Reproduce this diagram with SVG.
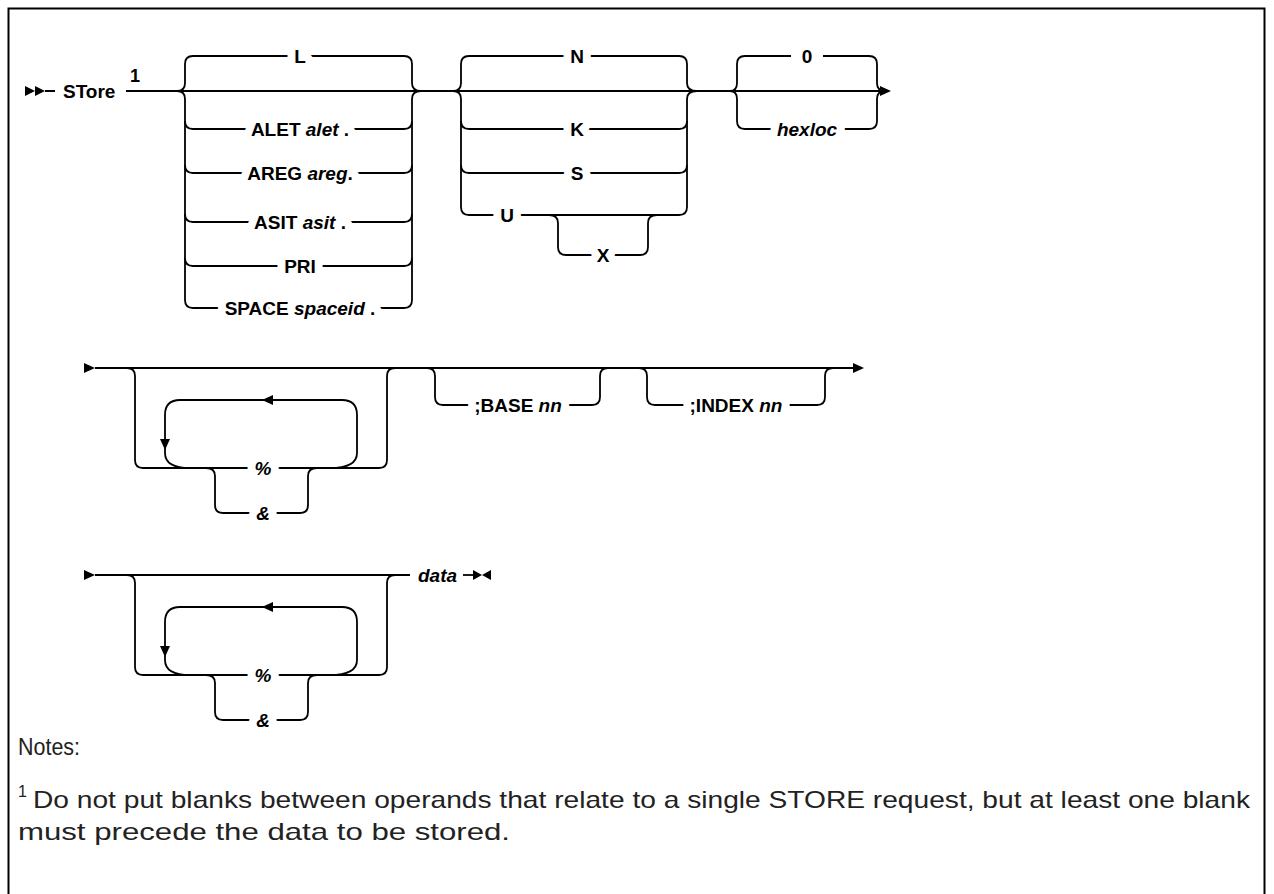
<svg xmlns="http://www.w3.org/2000/svg" xmlns:xlink="http://www.w3.org/1999/xlink" width="1274" height="894" viewBox="0 0 1274 894">
<style>
.ln{fill:none;stroke:#000;stroke-width:1.8;stroke-linejoin:round}
.ah{fill:#000;stroke:none}
.t{font-family:"Liberation Sans",Arial,sans-serif;font-size:19px;font-weight:bold;text-anchor:middle;fill:#000}
.halo{stroke:#fff;stroke-width:16px;stroke-linejoin:round;fill:#fff}
.tl{text-anchor:start}
.i{font-style:italic}
.n{font-family:"Liberation Sans",Arial,sans-serif;font-size:24px;fill:#222}
</style>
<rect x="8.5" y="8.5" width="1256" height="920" fill="#fff" stroke="#000" stroke-width="2"/>

<g id="connectors">
  <path class="ln" d="M45,91 H55 M126,91 H881"/>
  <path class="ln" d="M177,91 Q185,91 185,83 V64 Q185,56 193,56 H404 Q412,56 412,64 V83 Q412,91 421,91"/>
  <path class="ln" d="M177,91 Q185,91 185,99 V300 Q185,308 193,308 H404 Q412,308 412,300 V99 Q412,91 421,91"/>
  <path class="ln" d="M185,121 Q185,129 193,129 H404 Q412,129 412,121 M185,165 Q185,173 193,173 H404 Q412,173 412,165 M185,214 Q185,222 193,222 H404 Q412,222 412,214 M185,258 Q185,266 193,266 H404 Q412,266 412,258"/>
  <path class="ln" d="M453,91 Q461,91 461,83 V64 Q461,56 469,56 H679 Q687,56 687,64 V83 Q687,91 697,91"/>
  <path class="ln" d="M453,91 Q461,91 461,99 V207 Q461,215 469,215 H679 Q687,215 687,207 V99 Q687,91 697,91"/>
  <path class="ln" d="M461,121 Q461,129 469,129 H679 Q687,129 687,121 M461,165 Q461,173 469,173 H679 Q687,173 687,165"/>
  <path class="ln" d="M549,215 Q558,215 558,223 V247 Q558,255 566,255 H640 Q648,255 648,247 V223 Q648,215 657,215"/>
  <path class="ln" d="M730,91 Q737,91 737,83 V64 Q737,56 745,56 H791 M823,56 H869 Q877,56 877,64 V83 Q877,91 885,91"/>
  <path class="ln" d="M730,91 Q737,91 737,99 V121 Q737,129 745,129 H869 Q877,129 877,121 V99 Q877,91 885,91"/>
  <polygon class="ah" points="880,86 891,91 880,96"/>

  <polygon class="ah" points="84,363 95,368 84,373"/>
  <path class="ln" d="M95,368 H855"/>
  <polygon class="ah" points="853,363 864,368 853,373"/>
  <path class="ln" d="M127,368 Q135,368 135,376 V460 Q135,468 143,468 H379 Q387,468 387,460 V376 Q387,368 395,368"/>
  <path class="ln" d="M330,468 Q357,468 357,453 V415 Q357,400 342,400 H180 Q165,400 165,415 V453 Q165,468 190,468"/>
  <polygon class="ah" points="262,400 273,395 273,405"/>
  <polygon class="ah" points="160,439 170,439 165,450"/>
  <path class="ln" d="M206,468 Q215,468 215,476 V505 Q215,513 223,513 H300 Q308,513 308,505 V476 Q308,468 317,468"/>
  <path class="ln" d="M427,368 Q435,368 435,376 V397 Q435,405 443,405 H592 Q600,405 600,397 V376 Q600,368 608,368"/>
  <path class="ln" d="M639,368 Q647,368 647,376 V397 Q647,405 655,405 H817 Q825,405 825,397 V376 Q825,368 833,368"/>

  <polygon class="ah" points="84,570 95,575 84,580"/>
  <path class="ln" d="M95,575 H410"/>
  <path class="ln" d="M127,575 Q135,575 135,583 V667 Q135,675 143,675 H379 Q387,675 387,667 V583 Q387,575 395,575"/>
  <path class="ln" d="M330,675 Q357,675 357,660 V622 Q357,607 342,607 H180 Q165,607 165,622 V660 Q165,675 190,675"/>
  <polygon class="ah" points="262,607 273,602 273,612"/>
  <polygon class="ah" points="160,646 170,646 165,657"/>
  <path class="ln" d="M206,675 Q215,675 215,683 V712 Q215,720 223,720 H300 Q308,720 308,712 V683 Q308,675 317,675"/>
  <path class="ln" d="M463,575 H474"/>
  <polygon class="ah" points="473,570 482,575 473,580"/>
  <polygon class="ah" points="491,570 482,575 491,580"/>
</g>

<g id="start">
  <polygon class="ah" points="25,86 35,91 25,96"/>
  <polygon class="ah" points="35,86 45,91 35,96"/>
</g>
<g id="store"><text class="t tl" x="63" y="98">STore</text><text class="t tl" x="130" y="82" style="font-size:18px">1</text></g>
<g id="opt-L"><use class="halo" xlink:href="#tL"/><text id="tL" class="t" x="300" y="63">L</text></g>
<g id="opt-ALET"><use class="halo" xlink:href="#tALET"/><text id="tALET" class="t" x="300" y="136">ALET <tspan class="i">alet</tspan> .</text></g>
<g id="opt-AREG"><use class="halo" xlink:href="#tAREG"/><text id="tAREG" class="t" x="300" y="180">AREG <tspan class="i">areg</tspan>.</text></g>
<g id="opt-ASIT"><use class="halo" xlink:href="#tASIT"/><text id="tASIT" class="t" x="300" y="229">ASIT <tspan class="i">asit</tspan> .</text></g>
<g id="opt-PRI"><use class="halo" xlink:href="#tPRI"/><text id="tPRI" class="t" x="300" y="273">PRI</text></g>
<g id="opt-SPACE"><use class="halo" xlink:href="#tSPACE"/><text id="tSPACE" class="t" x="300" y="315">SPACE <tspan class="i">spaceid</tspan> .</text></g>
<g id="opt-N"><use class="halo" xlink:href="#tN"/><text id="tN" class="t" x="577" y="63">N</text></g>
<g id="opt-K"><use class="halo" xlink:href="#tK"/><text id="tK" class="t" x="577" y="136">K</text></g>
<g id="opt-S"><use class="halo" xlink:href="#tS"/><text id="tS" class="t" x="577" y="180">S</text></g>
<g id="opt-U"><use class="halo" xlink:href="#tU"/><text id="tU" class="t" x="507" y="222">U</text></g>
<g id="opt-X"><use class="halo" xlink:href="#tX"/><text id="tX" class="t" x="603" y="262">X</text></g>
<g id="opt-0"><text id="t0" class="t" x="807" y="63">0</text></g>
<g id="opt-hexloc"><use class="halo" xlink:href="#thex"/><text id="thex" class="t i" x="807" y="136">hexloc</text></g>

<g id="r2-pct"><use class="halo" xlink:href="#tp2"/><text id="tp2" class="t i" x="263" y="475">%</text></g>
<g id="r2-amp"><use class="halo" xlink:href="#ta2"/><text id="ta2" class="t i" x="263" y="520">&amp;</text></g>
<g id="r2-base"><use class="halo" xlink:href="#tb2"/><text id="tb2" class="t" x="518" y="412">;BASE <tspan class="i">nn</tspan></text></g>
<g id="r2-index"><use class="halo" xlink:href="#ti2"/><text id="ti2" class="t" x="736" y="412">;INDEX <tspan class="i">nn</tspan></text></g>

<g id="r3-pct"><use class="halo" xlink:href="#tp3"/><text id="tp3" class="t i" x="263" y="682">%</text></g>
<g id="r3-amp"><use class="halo" xlink:href="#ta3"/><text id="ta3" class="t i" x="263" y="727">&amp;</text></g>
<g id="r3-data"><text class="t i tl" x="418" y="582">data</text></g>

<g id="notes">
  <text class="n" x="18" y="755" style="font-size:23px" textLength="62" lengthAdjust="spacingAndGlyphs">Notes:</text>
  <text class="n" x="18" y="797" style="font-size:16px">1</text>
  <text class="n" x="33" y="808" textLength="1217" lengthAdjust="spacingAndGlyphs">Do not put blanks between operands that relate to a single STORE request, but at least one blank</text>
  <text class="n" x="18" y="840" textLength="492" lengthAdjust="spacingAndGlyphs">must precede the data to be stored.</text>
</g>
</svg>
